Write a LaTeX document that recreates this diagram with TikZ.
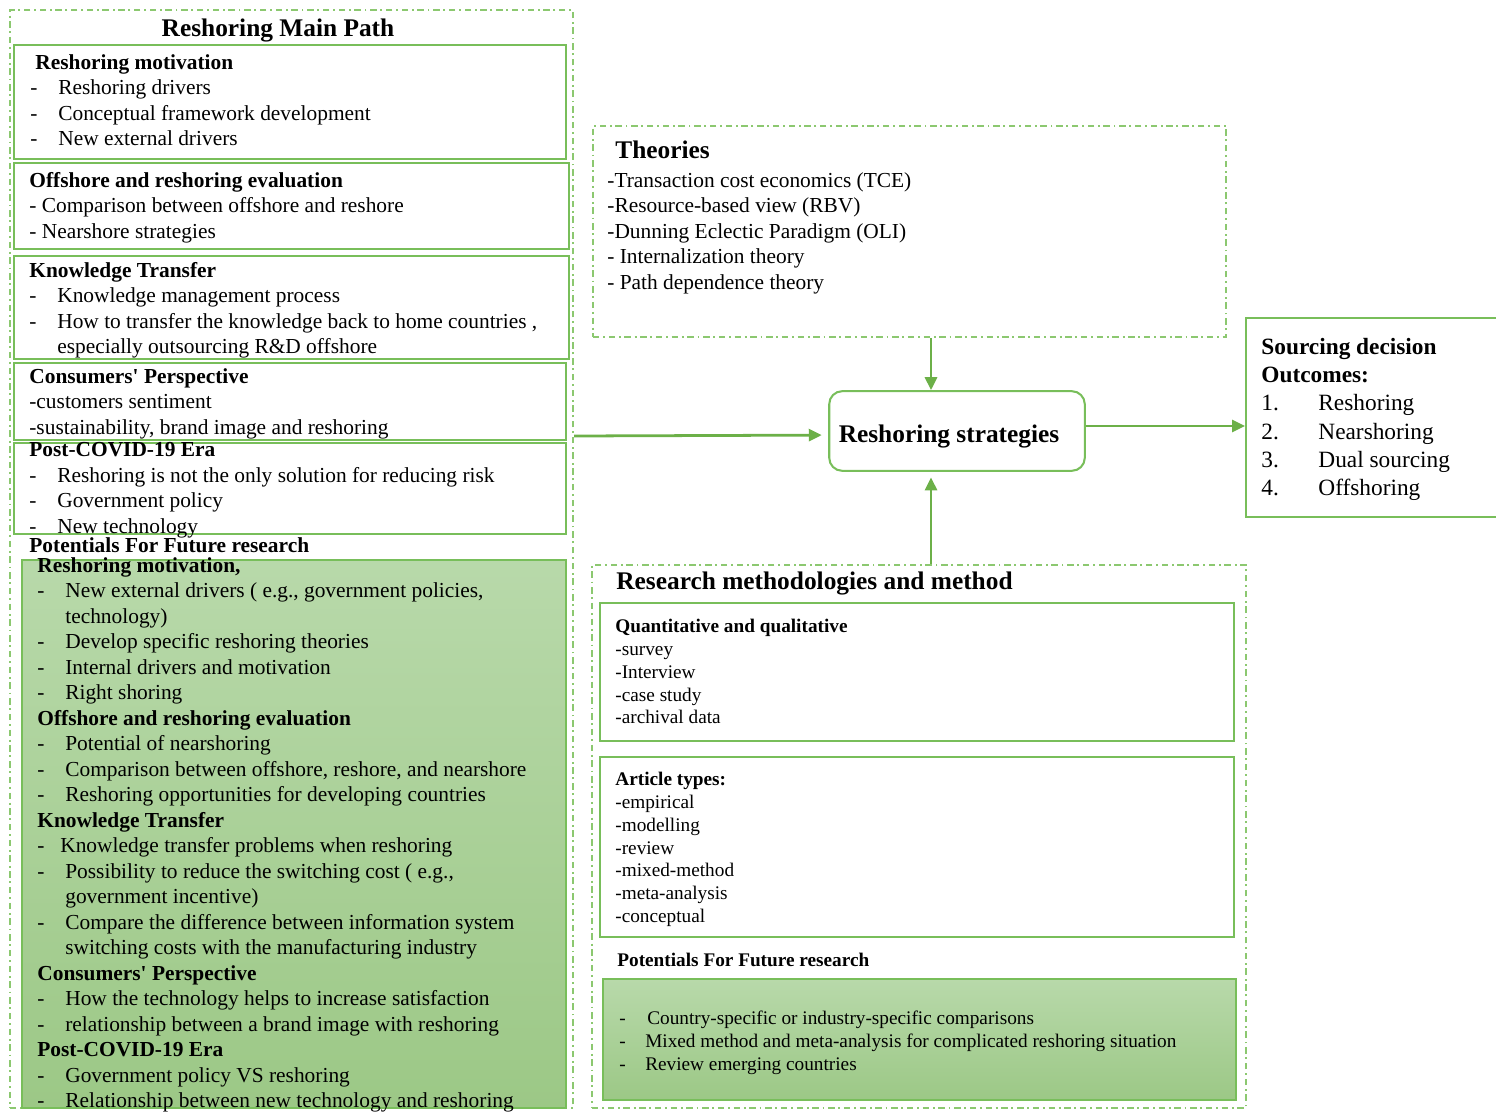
\documentclass[tikz,border=0pt]{standalone}
\usepackage{fontspec}
\setmainfont{Liberation Serif}
\usetikzlibrary{arrows.meta, positioning, fit}
\definecolor{boxgreen}{HTML}{78BE5A}
\definecolor{dashgreen}{HTML}{8CC870}
\definecolor{linkgreen}{HTML}{6CB048}
\definecolor{shadetop}{HTML}{B8D9AA}
\definecolor{shadebot}{HTML}{9CC886}
\newcommand{\dashitem}[2][15.1pt]{\makebox[#1][l]{-}#2}
\newcommand{\dashcont}[1]{\hspace*{15.1pt}#1}
\newcommand{\numitem}[2]{\makebox[30.8pt][l]{#1}#2}
\newcommand{\rsbody}{\fontsize{11.55}{13.77}\selectfont}
\newcommand{\rssmall}{\fontsize{10.4}{12.3}\selectfont}
\newcommand{\rsout}{\fontsize{12.6}{15.2}\selectfont}
\newcommand{\rstitle}{\fontsize{13.7}{16}\selectfont\bfseries}

\begin{document}
\begin{tikzpicture}[x=0.54pt, y=-0.54pt,
    dashbox/.style={draw=dashgreen, line width=1.1pt, dash pattern=on 3.5pt off 2pt on 1pt off 2pt, inner sep=0pt},
    greenbox/.style={draw=boxgreen, line width=1.1pt, inner sep=0pt},
    shadebox/.style={greenbox, top color=shadetop, bottom color=shadebot},
    stratbox/.style={draw=boxgreen, line width=1.1pt, rounded corners=7pt, minimum width=138pt, minimum height=43pt,
      text height=15.7pt, text depth=3pt, font=\rstitle},
    txt/.style={anchor=north west, inner sep=0pt, align=left, font=\rsbody},
    smalltxt/.style={txt, font=\rssmall},
    head/.style={anchor=base west, inner sep=0pt, font=\rstitle},
    link/.style={draw=linkgreen, line width=1.5pt, -{Triangle[length=7pt, width=6.5pt]}}]
  \useasboundingbox (0,0) rectangle (1496,1111);

  % main path column
  \node[dashbox, fit={(10,10) (573,1108)}] (mainpath) {};
  \node[head, anchor=base] (maintitle) at (278,37) {Reshoring Main Path};

  \node[greenbox, fit={(14,45) (566,159)}] (motbox) {};
  \node[txt] (mottxt) at (30,54) {\hspace*{2.7pt}\textbf{Reshoring motivation}\\
    \dashitem{Reshoring drivers}\\
    \dashitem{Conceptual framework development}\\
    \dashitem{New external drivers}};

  \node[greenbox, fit={(14,163) (569,249)}] (evalbox) {};
  \node[txt] (evaltxt) at (29,172) {\textbf{Offshore and reshoring evaluation}\\
    - Comparison between offshore and reshore\\
    - Nearshore strategies};

  \node[greenbox, fit={(14,256) (569,359)}] (kntbox) {};
  \node[txt] (knttxt) at (29,262) {\textbf{Knowledge Transfer}\\
    \dashitem{Knowledge management process}\\
    \dashitem{How to transfer the knowledge back to home countries ,}\\
    \dashcont{especially outsourcing R\&D offshore}};

  \node[greenbox, fit={(14,363) (566,440)}] (consbox) {};
  \node[txt] (constxt) at (29,368) {\textbf{Consumers\textquotesingle{} Perspective}\\
    -customers sentiment\\
    -sustainability, brand image and reshoring};

  \node[greenbox, fit={(14,443) (566,534)}] (covbox) {};
  \node[txt] (covtxt) at (29,442) {\textbf{Post-COVID-19 Era}\\
    \dashitem{Reshoring is not the only solution for reducing risk}\\
    \dashitem{Government policy}\\
    \dashitem{New technology}};

  \node[txt, font=\rsbody\bfseries] (futlabel) at (29,537) {Potentials For Future research};
  \node[shadebox, fit={(22,560) (566,1108)}] (futbox) {};
  \node[txt] (futtxt) at (37,557) {\textbf{Reshoring motivation,}\\
    \dashitem{New external drivers ( e.g., government policies,}\\
    \dashcont{technology)}\\
    \dashitem{Develop specific reshoring theories}\\
    \dashitem{Internal drivers and motivation}\\
    \dashitem{Right shoring}\\
    \textbf{Offshore and reshoring evaluation}\\
    \dashitem{Potential of nearshoring}\\
    \dashitem{Comparison between offshore, reshore, and nearshore}\\
    \dashitem{Reshoring opportunities for developing countries}\\
    \textbf{Knowledge Transfer}\\
    \dashitem[12.4pt]{Knowledge transfer problems when reshoring}\\
    \dashitem{Possibility to reduce the switching cost ( e.g.,}\\
    \dashcont{government incentive)}\\
    \dashitem{Compare the difference between information system}\\
    \dashcont{switching costs with the manufacturing industry}\\
    \textbf{Consumers\textquotesingle{} Perspective}\\
    \dashitem{How the technology helps to increase satisfaction}\\
    \dashitem{relationship between a brand image with reshoring}\\
    \textbf{Post-COVID-19 Era}\\
    \dashitem{Government policy VS reshoring}\\
    \dashitem{Relationship between new technology and reshoring}};

  % theories
  \node[dashbox, fit={(593,126) (1226,337)}] (theories) {};
  \node[head] (theotitle) at (615,158) {Theories};
  \node[txt] (theotxt) at (607,172) {-Transaction cost economics (TCE)\\
    -Resource-based view (RBV)\\
    -Dunning Eclectic Paradigm (OLI)\\
    - Internalization theory\\
    - Path dependence theory};

  % centre and outcome
  \node[stratbox] (strat) at (957,431) {Reshoring strategies\hspace*{8.6pt}};
  \node[greenbox, fit={(1246,318) (1502,517)}] (sourcing) {};
  \node[txt, font=\rsout] (sourcetxt) at (1261,338) {\textbf{Sourcing decision}\\
    \textbf{Outcomes:}\\
    \numitem{1.}{Reshoring}\\
    \numitem{2.}{Nearshoring}\\
    \numitem{3.}{Dual sourcing}\\
    \numitem{4.}{Offshoring}};

  % research methods
  \node[dashbox, fit={(592,565) (1246,1108)}] (research) {};
  \node[head] (restitle) at (616,589) {Research methodologies and method};
  \node[greenbox, fit={(600,603) (1234,741)}] (quantbox) {};
  \node[smalltxt] (quanttxt) at (615,619) {\textbf{Quantitative and qualitative}\\
    -survey\\-Interview\\-case study\\-archival data};
  \node[greenbox, fit={(600,757) (1234,937)}] (artbox) {};
  \node[smalltxt] (arttxt) at (615,772) {\textbf{Article types:}\\
    -empirical\\-modelling\\-review\\-mixed-method\\-meta-analysis\\-conceptual};
  \node[head, font=\rssmall\bfseries] (resfutlabel) at (617,966) {Potentials For Future research};
  \node[shadebox, fit={(603,979) (1236,1100)}] (resfutbox) {};
  \node[smalltxt] (resfuttxt) at (619,1011) {\dashitem{Country-specific or industry-specific comparisons}\\
    \dashitem[14pt]{Mixed method and meta-analysis for complicated reshoring situation}\\
    \dashitem[14pt]{Review emerging countries}};

  % links
  \coordinate (feed) at (931,0);
  \draw[link] (feed |- theories.south) -- (feed |- strat.north);
  \draw[link, shorten >=3pt] (feed |- research.north) -- (feed |- strat.south);
  \draw[link, shorten >=3.5pt] ([yshift=-2.7pt]mainpath.east |- strat.west) -- ([yshift=-2.2pt]strat.west);
  \draw[link] ([yshift=2.7pt]strat.east) -- ([yshift=2.7pt]strat.east -| sourcing.west);
\end{tikzpicture}
\end{document}
